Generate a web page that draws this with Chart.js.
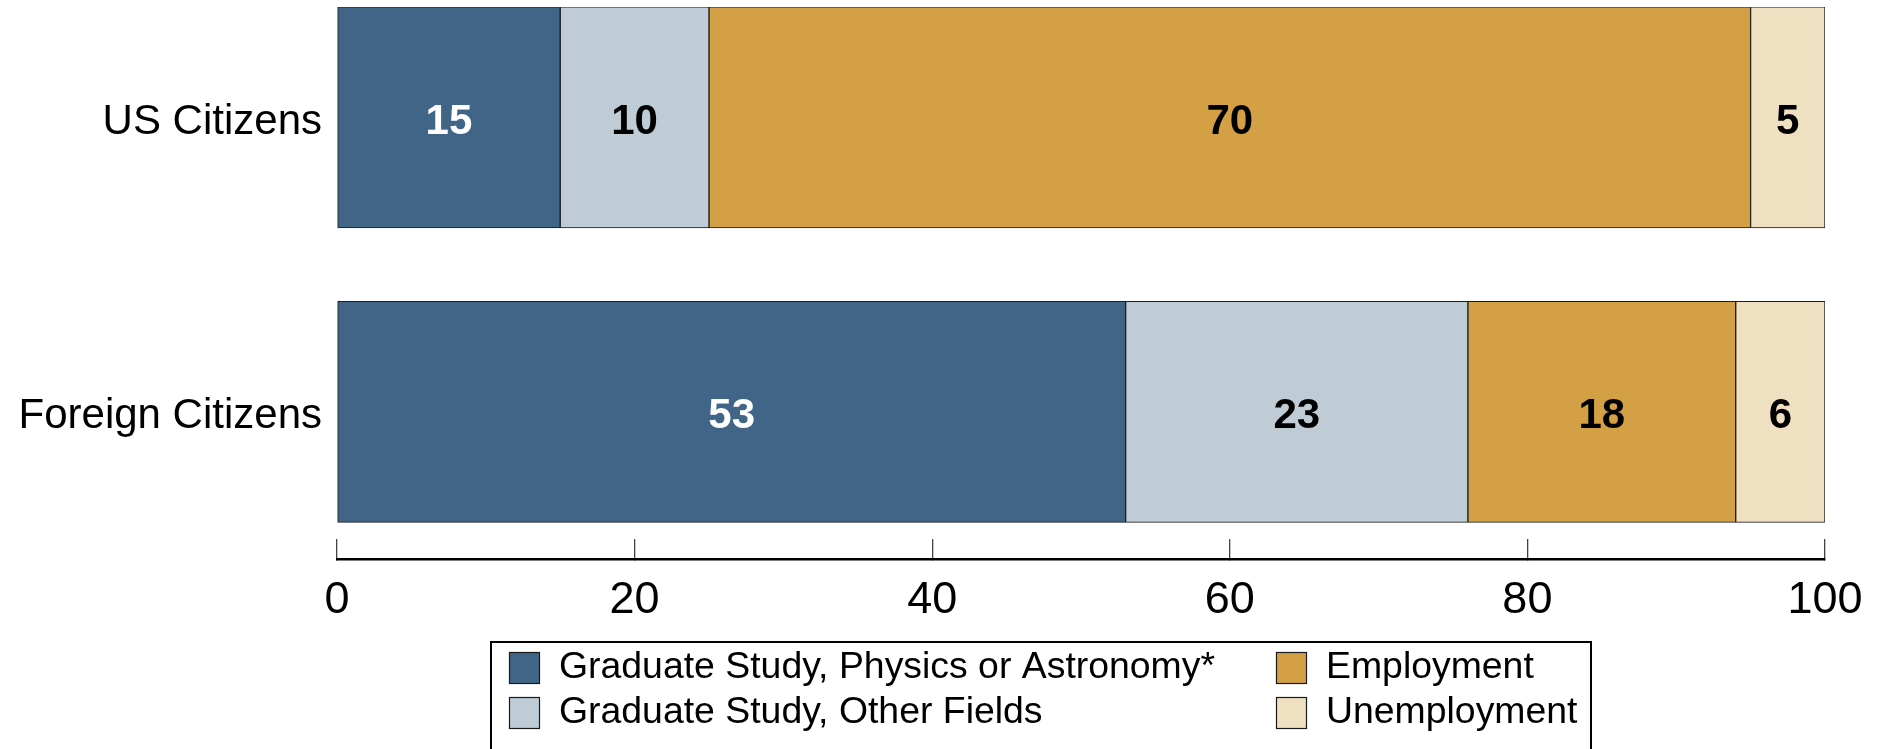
<!DOCTYPE html>
<html>
<head>
<meta charset="utf-8">
<script src="https://cdn.jsdelivr.net/npm/chart.js@4/dist/chart.umd.min.js"></script>
<style>
  html, body { margin: 0; padding: 0; background: #ffffff; }
  #wrap { width: 1881px; height: 749px; position: relative; }
</style>
</head>
<body>
<div id="wrap"><canvas id="c" width="1881" height="749"></canvas></div>
<script>
// ---- data ----
const categories = ['US Citizens', 'Foreign Citizens'];
const seriesNames = ['Graduate Study, Physics or Astronomy*', 'Graduate Study, Other Fields', 'Employment', 'Unemployment'];
const physicsAstronomy = [15, 53];
const otherFields = [10, 23];
const employment = [70, 18];
const unemployment = [5, 6];
const xTicks = [0, 20, 40, 60, 80, 100];

const colors = ['#416586', '#BFCCD6', '#D4A046', '#F0E0C2'];
const labelColors = ['#ffffff', '#000000', '#000000', '#000000'];
const FONT = '"Liberation Sans", Arial, Helvetica, sans-serif';

const seriesValues = [physicsAstronomy, otherFields, employment, unemployment];
const datasets = seriesValues.map((vals, k) => ({
  label: seriesNames[k],
  data: vals.map((v, i) => ({ x: v, y: i })),
  backgroundColor: colors[k],
  borderColor: '#1a1a1a',
  borderWidth: 1,
  borderSkipped: false,
  barThickness: 221
}));

const valueLabels = {
  id: 'valueLabels',
  afterDatasetsDraw(chart) {
    const ctx = chart.ctx;
    ctx.save();
    ctx.font = 'bold 42px ' + FONT;
    ctx.textAlign = 'center';
    ctx.textBaseline = 'middle';
    chart.data.datasets.forEach((ds, k) => {
      const meta = chart.getDatasetMeta(k);
      meta.data.forEach((bar, i) => {
        const c = bar.getCenterPoint();
        ctx.fillStyle = labelColors[k];
        ctx.fillText(String(ds.data[i].x), c.x, c.y + 5);
      });
    });
    ctx.restore();
  }
};

const boxLegend = {
  id: 'boxLegend',
  afterDraw(chart) {
    const ctx = chart.ctx;
    ctx.save();
    ctx.strokeStyle = '#000';
    ctx.lineWidth = 2;
    ctx.strokeRect(491, 642, 1100, 130);
    const cols = [509, 1276];
    const rows = [652, 697];
    const order = [[0, 0, 0], [1, 0, 1], [2, 1, 0], [3, 1, 1]];
    ctx.font = '37.4px ' + FONT;
    ctx.textAlign = 'left';
    ctx.textBaseline = 'middle';
    order.forEach(([k, c, r]) => {
      const ds = chart.data.datasets[k];
      const x = cols[c], y = rows[r];
      ctx.fillStyle = ds.backgroundColor;
      ctx.fillRect(x, y, 30, 31);
      ctx.lineWidth = 1.2;
      ctx.strokeStyle = '#1a1a1a';
      ctx.strokeRect(x + 0.5, y + 0.5, 30, 31);
      ctx.fillStyle = '#000';
      ctx.fillText(ds.label, x + 50, y + 16);
    });
    ctx.restore();
  }
};

new Chart(document.getElementById('c'), {
  type: 'bar',
  data: { datasets },
  options: {
    indexAxis: 'y',
    responsive: false,
    animation: false,
    events: [],
    layout: { padding: { top: 7, right: 56, bottom: 90, left: 0 } },
    plugins: { legend: { display: false }, tooltip: { enabled: false } },
    scales: {
      x: {
        type: 'linear',
        stacked: true,
        min: 0,
        max: 100,
        offset: false,
        afterBuildTicks(scale) { scale.ticks = xTicks.map(v => ({ value: v })); },
        afterFit(scale) {
          scale.height = 100;
          scale.paddingLeft = 0; scale.paddingRight = 0;
          scale.paddingTop = 0; scale.paddingBottom = 0;
        },
        border: { display: true, color: '#000', width: 2.5 },
        grid: { display: true, offset: false, drawOnChartArea: false, drawTicks: true, tickLength: -20, color: '#444', lineWidth: 1.3 },
        ticks: { color: '#000', padding: 35, font: { family: FONT, size: 45 } }
      },
      y: {
        type: 'linear',
        stacked: true,
        reverse: true,
        offset: false,
        min: -0.375,
        max: 1.5,
        afterBuildTicks(scale) { scale.ticks = categories.map((_, i) => ({ value: i })); },
        afterFit(scale) {
          scale.width = 337;
          scale.paddingLeft = 0; scale.paddingRight = 0;
          scale.paddingTop = 0; scale.paddingBottom = 0;
        },
        border: { display: false },
        grid: { display: false, offset: false, drawTicks: false },
        ticks: {
          color: '#000',
          padding: 15,
          labelOffset: 5,
          font: { family: FONT, size: 42 },
          callback: (v) => categories[v]
        }
      }
    }
  },
  plugins: [valueLabels, boxLegend]
});
</script>
</body>
</html>
